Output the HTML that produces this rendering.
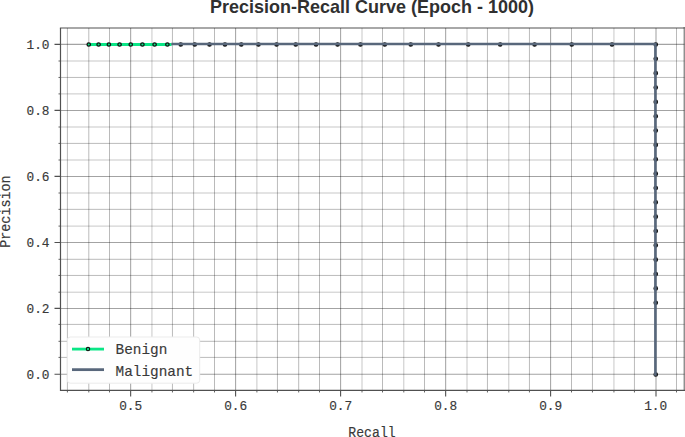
<!DOCTYPE html><html><head><meta charset="utf-8"><style>
html,body{margin:0;padding:0;background:#fff;width:685px;height:437px;overflow:hidden}
svg{display:block}
text{font-family:"Liberation Mono",monospace}
.t{stroke:#393939;stroke-width:0.15px}
</style></head><body>
<svg width="685" height="437" viewBox="0 0 685 437">
<rect width="685" height="437" fill="#ffffff"/>
<path d="M67.4 28V390.45M88.8 28V390.45M109.5 28V390.45M172.45 28V390.45M193.65 28V390.45M214.5 28V390.45M277.45 28V390.45M298.7 28V390.45M319.5 28V390.45M382.5 28V390.45M424.5 28V390.45M487.45 28V390.45M529.45 28V390.45M571.5 28V390.45M592.45 28V390.45M634.45 28V390.45M676.5 28V390.45" stroke="#000" stroke-opacity="0.27" stroke-width="1.0" fill="none"/>
<path d="M151.95 28V390.45M256.9 28V390.45M362 28V390.45M403.8 28V390.45M467 28V390.45M508.8 28V390.45M613.95 28V390.45" stroke="#000" stroke-opacity="0.22" stroke-width="1.0" fill="none"/>
<path d="M60.5 357.4H684.45M60.5 341.3H684.45M60.5 324.4H684.45M60.5 275.45H684.45M60.5 259.3H684.45M60.5 209.35H684.45M60.5 143.4H684.45M60.5 77.45H684.45" stroke="#000" stroke-opacity="0.27" stroke-width="1.0" fill="none"/>
<path d="M60.5 292.2H684.45M60.5 226.1H684.45M60.5 193H684.45M60.5 160H684.45M60.5 127H684.45M60.5 93.9H684.45M60.5 61H684.45" stroke="#000" stroke-opacity="0.22" stroke-width="1.0" fill="none"/>
<path d="M130.65 28V390.45M235.6 28V390.45M340.6 28V390.45M445.65 28V390.45M550.6 28V390.45M656 28V390.45" stroke="#000" stroke-opacity="0.36" stroke-width="1.05" fill="none"/>
<path d="M60.5 374.2H684.45M60.5 308.4H684.45M60.5 242.5H684.45M60.5 176.4H684.45M60.5 110.4H684.45M60.5 44.35H684.45" stroke="#000" stroke-opacity="0.36" stroke-width="1.05" fill="none"/>
<path d="M87.15 44.45H171.6" stroke="#0ae686" stroke-width="3" fill="none"/>
<circle cx="88.75" cy="44.5" r="1.7" fill="#0ae686" stroke="#111" stroke-width="1.3"/>
<circle cx="98.61" cy="44.5" r="1.7" fill="#0ae686" stroke="#111" stroke-width="1.3"/>
<circle cx="108.88" cy="44.5" r="1.7" fill="#0ae686" stroke="#111" stroke-width="1.3"/>
<circle cx="119.58" cy="44.5" r="1.7" fill="#0ae686" stroke="#111" stroke-width="1.3"/>
<circle cx="130.75" cy="44.5" r="1.7" fill="#0ae686" stroke="#111" stroke-width="1.3"/>
<circle cx="142.42" cy="44.5" r="1.7" fill="#0ae686" stroke="#111" stroke-width="1.3"/>
<circle cx="154.61" cy="44.5" r="1.7" fill="#0ae686" stroke="#111" stroke-width="1.3"/>
<circle cx="167.38" cy="44.5" r="1.7" fill="#0ae686" stroke="#111" stroke-width="1.3"/>
<circle cx="180.75" cy="44.5" r="1.7" fill="#1c2128" stroke="#111" stroke-width="1.3"/>
<circle cx="194.77" cy="44.5" r="1.7" fill="#1c2128" stroke="#111" stroke-width="1.3"/>
<circle cx="209.5" cy="44.5" r="1.7" fill="#1c2128" stroke="#111" stroke-width="1.3"/>
<circle cx="224.98" cy="44.5" r="1.7" fill="#1c2128" stroke="#111" stroke-width="1.3"/>
<circle cx="241.28" cy="44.5" r="1.7" fill="#1c2128" stroke="#111" stroke-width="1.3"/>
<circle cx="258.45" cy="44.5" r="1.7" fill="#1c2128" stroke="#111" stroke-width="1.3"/>
<circle cx="276.58" cy="44.5" r="1.7" fill="#1c2128" stroke="#111" stroke-width="1.3"/>
<circle cx="295.75" cy="44.5" r="1.7" fill="#1c2128" stroke="#111" stroke-width="1.3"/>
<circle cx="316.04" cy="44.5" r="1.7" fill="#1c2128" stroke="#111" stroke-width="1.3"/>
<circle cx="337.57" cy="44.5" r="1.7" fill="#1c2128" stroke="#111" stroke-width="1.3"/>
<circle cx="360.44" cy="44.5" r="1.7" fill="#1c2128" stroke="#111" stroke-width="1.3"/>
<circle cx="384.78" cy="44.5" r="1.7" fill="#1c2128" stroke="#111" stroke-width="1.3"/>
<circle cx="410.75" cy="44.5" r="1.7" fill="#1c2128" stroke="#111" stroke-width="1.3"/>
<circle cx="438.51" cy="44.5" r="1.7" fill="#1c2128" stroke="#111" stroke-width="1.3"/>
<circle cx="468.25" cy="44.5" r="1.7" fill="#1c2128" stroke="#111" stroke-width="1.3"/>
<circle cx="500.19" cy="44.5" r="1.7" fill="#1c2128" stroke="#111" stroke-width="1.3"/>
<circle cx="534.6" cy="44.5" r="1.7" fill="#1c2128" stroke="#111" stroke-width="1.3"/>
<circle cx="571.75" cy="44.5" r="1.7" fill="#1c2128" stroke="#111" stroke-width="1.3"/>
<circle cx="612" cy="44.5" r="1.7" fill="#1c2128" stroke="#111" stroke-width="1.3"/>
<circle cx="655.75" cy="44.5" r="1.7" fill="#1c2128" stroke="#111" stroke-width="1.3"/>
<circle cx="655.75" cy="58.85" r="1.7" fill="#1c2128" stroke="#111" stroke-width="1.3"/>
<circle cx="655.75" cy="73.2" r="1.7" fill="#1c2128" stroke="#111" stroke-width="1.3"/>
<circle cx="655.75" cy="87.54" r="1.7" fill="#1c2128" stroke="#111" stroke-width="1.3"/>
<circle cx="655.75" cy="101.89" r="1.7" fill="#1c2128" stroke="#111" stroke-width="1.3"/>
<circle cx="655.75" cy="116.24" r="1.7" fill="#1c2128" stroke="#111" stroke-width="1.3"/>
<circle cx="655.75" cy="130.59" r="1.7" fill="#1c2128" stroke="#111" stroke-width="1.3"/>
<circle cx="655.75" cy="144.93" r="1.7" fill="#1c2128" stroke="#111" stroke-width="1.3"/>
<circle cx="655.75" cy="159.28" r="1.7" fill="#1c2128" stroke="#111" stroke-width="1.3"/>
<circle cx="655.75" cy="173.63" r="1.7" fill="#1c2128" stroke="#111" stroke-width="1.3"/>
<circle cx="655.75" cy="187.98" r="1.7" fill="#1c2128" stroke="#111" stroke-width="1.3"/>
<circle cx="655.75" cy="202.33" r="1.7" fill="#1c2128" stroke="#111" stroke-width="1.3"/>
<circle cx="655.75" cy="216.67" r="1.7" fill="#1c2128" stroke="#111" stroke-width="1.3"/>
<circle cx="655.75" cy="231.02" r="1.7" fill="#1c2128" stroke="#111" stroke-width="1.3"/>
<circle cx="655.75" cy="245.37" r="1.7" fill="#1c2128" stroke="#111" stroke-width="1.3"/>
<circle cx="655.75" cy="259.72" r="1.7" fill="#1c2128" stroke="#111" stroke-width="1.3"/>
<circle cx="655.75" cy="274.07" r="1.7" fill="#1c2128" stroke="#111" stroke-width="1.3"/>
<circle cx="655.75" cy="288.41" r="1.7" fill="#1c2128" stroke="#111" stroke-width="1.3"/>
<circle cx="655.75" cy="302.76" r="1.7" fill="#1c2128" stroke="#111" stroke-width="1.3"/>
<circle cx="655.75" cy="374.5" r="1.7" fill="#1c2128" stroke="#111" stroke-width="1.3"/>
<path d="M172.65 44H655.4V374.45" stroke="#58677b" stroke-width="2.6" fill="none" stroke-linejoin="miter" stroke-linecap="square"/>
<path d="M59.9 28H684.45" stroke="#000" stroke-opacity="0.34" stroke-width="1.8" fill="none"/>
<path d="M684.45 27.1V390.45" stroke="#000" stroke-opacity="0.44" stroke-width="1.8" fill="none"/>
<path d="M60.5 28V390.45H685.35" stroke="#505050" stroke-width="1.2" fill="none"/>
<path d="M130.65 390.45v6M235.6 390.45v6M340.6 390.45v6M445.65 390.45v6M550.6 390.45v6M656 390.45v6M60.5 374.2h-6M60.5 308.4h-6M60.5 242.5h-6M60.5 176.4h-6M60.5 110.4h-6M60.5 44.35h-6" stroke="#505050" stroke-width="1.1" fill="none"/>
<path d="M67.4 390.45v2M88.8 390.45v2M109.5 390.45v2M151.95 390.45v2M172.45 390.45v2M193.65 390.45v2M214.5 390.45v2M256.9 390.45v2M277.45 390.45v2M298.7 390.45v2M319.5 390.45v2M362 390.45v2M382.5 390.45v2M403.8 390.45v2M424.5 390.45v2M467 390.45v2M487.45 390.45v2M508.8 390.45v2M529.45 390.45v2M571.5 390.45v2M592.45 390.45v2M613.95 390.45v2M634.45 390.45v2M676.5 390.45v2M60.5 357.4h-2M60.5 341.3h-2M60.5 324.4h-2M60.5 292.2h-2M60.5 275.45h-2M60.5 259.3h-2M60.5 226.1h-2M60.5 209.35h-2M60.5 193h-2M60.5 160h-2M60.5 143.4h-2M60.5 127h-2M60.5 93.9h-2M60.5 77.45h-2M60.5 61h-2" stroke="#505050" stroke-width="0.9" fill="none"/>
<text transform="translate(130.65 410.35) scale(1 1.06)" class="t" text-anchor="middle" font-size="12.8" fill="#393939">0.5</text>
<text transform="translate(235.65 410.35) scale(1 1.06)" class="t" text-anchor="middle" font-size="12.8" fill="#393939">0.6</text>
<text transform="translate(340.65 410.35) scale(1 1.06)" class="t" text-anchor="middle" font-size="12.8" fill="#393939">0.7</text>
<text transform="translate(445.65 410.35) scale(1 1.06)" class="t" text-anchor="middle" font-size="12.8" fill="#393939">0.8</text>
<text transform="translate(550.65 410.35) scale(1 1.06)" class="t" text-anchor="middle" font-size="12.8" fill="#393939">0.9</text>
<text transform="translate(655.65 410.35) scale(1 1.06)" class="t" text-anchor="middle" font-size="12.8" fill="#393939">1.0</text>
<text transform="translate(49.5 379.3) scale(1 1.06)" class="t" text-anchor="end" font-size="12.8" fill="#393939">0.0</text>
<text transform="translate(49.5 313.3) scale(1 1.06)" class="t" text-anchor="end" font-size="12.8" fill="#393939">0.2</text>
<text transform="translate(49.5 247.3) scale(1 1.06)" class="t" text-anchor="end" font-size="12.8" fill="#393939">0.4</text>
<text transform="translate(49.5 181.3) scale(1 1.06)" class="t" text-anchor="end" font-size="12.8" fill="#393939">0.6</text>
<text transform="translate(49.5 115.3) scale(1 1.06)" class="t" text-anchor="end" font-size="12.8" fill="#393939">0.8</text>
<text transform="translate(49.5 49.3) scale(1 1.06)" class="t" text-anchor="end" font-size="12.8" fill="#393939">1.0</text>
<text class="t" transform="translate(372 436.8) scale(1 1.07)" text-anchor="middle" font-size="13.2" fill="#393939">Recall</text>
<text class="t" transform="translate(10.2 211.6) rotate(-90) scale(1 1.05)" text-anchor="middle" font-size="13.4" fill="#393939">Precision</text>
<text transform="translate(372.05 13.35) scale(1 1.04)" x="0" y="0" text-anchor="middle" font-weight="bold" font-size="18" fill="#303030" style="font-family:'Liberation Sans',sans-serif">Precision-Recall Curve (Epoch - 1000)</text>
<rect x="67.3" y="337" width="132.4" height="46.2" rx="3" ry="3" fill="#fefefe" stroke="#ebebeb" stroke-width="1"/>
<path d="M72 349.1H104" stroke="#0ae686" stroke-width="2.8"/>
<circle cx="88" cy="349.1" r="1.7" fill="#0ae686" stroke="#111" stroke-width="1.1"/>
<path d="M72 369.65H104" stroke="#58677b" stroke-width="2.8"/>
<text class="t" x="115.5" y="354.1" font-size="14.4" fill="#393939">Benign</text>
<text class="t" x="115.5" y="375.5" font-size="14.4" fill="#393939">Malignant</text>
</svg></body></html>
